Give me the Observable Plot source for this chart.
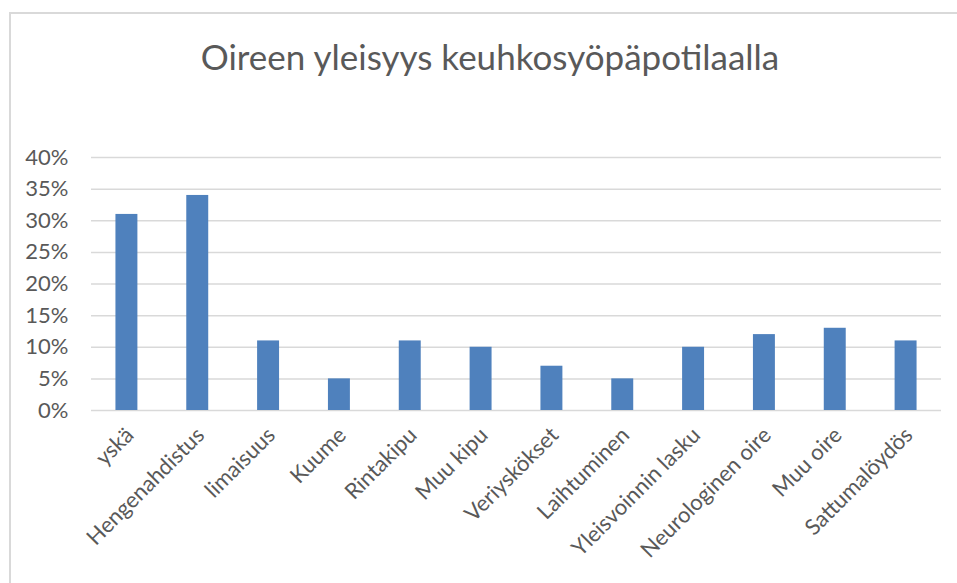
<!DOCTYPE html>
<html>
<head>
<meta charset="utf-8">
<script src="https://cdn.jsdelivr.net/npm/d3@7"></script>
<script src="https://cdn.jsdelivr.net/npm/@observablehq/plot@0.6"></script>
<style>
  body { margin: 0; background: #fff; }
  #wrap { position: relative; width: 957px; height: 583px; overflow: hidden; font-family: Lato, "Open Sans", sans-serif; }
  #frame { position: absolute; left: 9px; top: 12px; width: 960px; height: 600px; border-left: 2px solid #d9d9d9; border-top: 2px solid #d9d9d9; box-sizing: border-box; }
  #title { position: absolute; left: 0; top: 35px; width: 980px; text-align: center; font-size: 35px; line-height: normal; color: #595959; }
  #chart { position: absolute; left: 0; top: 0; }
</style>
</head>
<body>
<div id="wrap">
  <div id="frame"></div>
  <div id="title">Oireen yleisyys keuhkosyöpäpotilaalla</div>
  <div id="chart"></div>
</div>
<script>
const categories = ["yskä", "Hengenahdistus", "limaisuus", "Kuume", "Rintakipu", "Muu kipu", "Veriyskökset", "Laihtuminen", "Yleisvoinnin lasku", "Neurologinen oire", "Muu oire", "Sattumalöydös"];
const values = [0.31, 0.34, 0.11, 0.05, 0.11, 0.10, 0.07, 0.05, 0.10, 0.12, 0.13, 0.11];
const yTicks = [0, 0.05, 0.10, 0.15, 0.20, 0.25, 0.30, 0.35, 0.40];

const data = categories.map((c, i) => ({category: c, value: values[i]}));

const chart = Plot.plot({
  width: 957,
  height: 583,
  marginLeft: 91,
  marginRight: 16,
  marginTop: 157,
  marginBottom: 173,
  style: {fontFamily: "Lato, 'Open Sans', sans-serif", fontSize: "22px", color: "#595959", background: "transparent"},
  x: {domain: categories, paddingInner: 0.69, paddingOuter: 0.345, round: false, label: null},
  y: {domain: [0, 0.4], ticks: yTicks, label: null},
  marks: [
    Plot.gridY(yTicks, {stroke: "#d9d9d9", strokeOpacity: 1, strokeWidth: 1.5}),
    Plot.barY(data, {x: "category", y: "value", fill: "#4F81BD"}),
    Plot.axisY(yTicks, {tickSize: 0, tickPadding: 23, tickFormat: d => Math.round(d * 100) + "%", fontSize: 22, fill: "#595959"}),
    Plot.axisX({tickSize: 0, tickPadding: 21, tickRotate: -45, dx: 3, fontSize: 22, fill: "#595959", label: null})
  ]
});
document.getElementById("chart").appendChild(chart);
</script>
</body>
</html>
